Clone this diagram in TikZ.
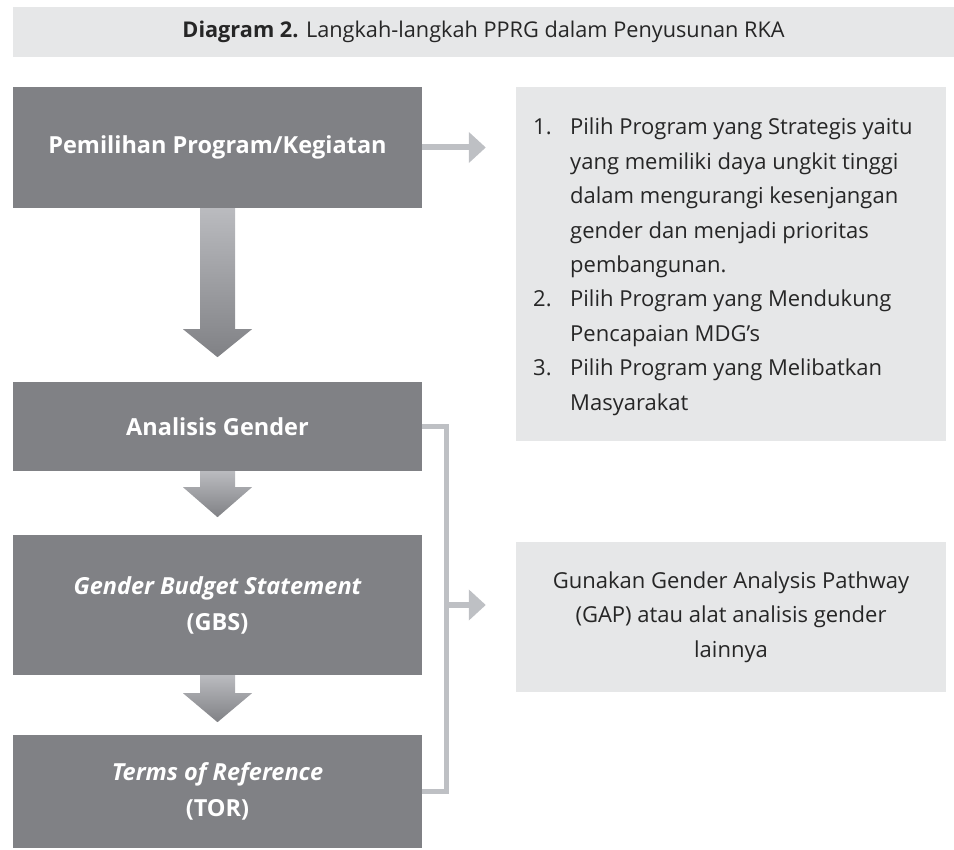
\documentclass[tikz,border=0pt]{standalone}
\usepackage{fontspec}
\setmainfont{Open Sans}
\usetikzlibrary{arrows.meta,calc}
\definecolor{darkbox}{RGB}{128,129,133}
\definecolor{lightbox}{RGB}{230,231,232}
\definecolor{connc}{RGB}{190,192,196}
\definecolor{arrtop}{RGB}{186,187,191}
\definecolor{arrbot}{RGB}{128,129,133}
\newcommand\flowdn[3]{%
  \shade[flowarrow] ($(#1.south)+(-17.5,0)$) -- ++(35,0) -- ++(0,#2) -- ++(17,0)
    -- ($(#1.south)+(0,#3)$) -- ($(#1.south)+(-34.5,#2)$) -- ++(17,0) -- cycle;}
\begin{document}
\begin{tikzpicture}[x=1pt,y=-1pt,
  lbox/.style={fill=darkbox, text=white, inner sep=0pt, minimum width=409pt,
    font=\fontsize{23.5}{36}\selectfont\bfseries, align=center},
  rbox/.style={fill=lightbox, inner sep=0pt, minimum width=430pt},
  conn/.style={draw=connc, line width=6pt, -{Triangle[width=30pt,length=17pt]}},
  bracketline/.style={draw=connc, line width=5pt, line join=miter},
  flowarrow/.style={top color=arrtop, bottom color=arrbot, draw=none},
  bodytext/.style={inner sep=0pt, font=\fontsize{22}{34.4}\selectfont, text=black!85}]
\useasboundingbox (0,0) rectangle (954,850);
% title
\node[fill=lightbox, minimum width=941pt, minimum height=50pt, inner sep=0pt,
  font=\fontsize{21.7}{26}\selectfont, text=black!85] (title) at (483.5,32)
  {\textbf{Diagram 2.} Langkah-langkah PPRG dalam Penyusunan RKA};
% left column
\node[lbox, minimum height=121pt] (b1) at (217.5,147.5) {Pemilihan Program/Kegiatan};
\node[lbox, minimum height=89pt] (b2) at (217.5,426.5) {Analisis Gender};
\node[lbox, minimum height=140pt] (b3) at (217.5,605) {\itshape Gender Budget Statement\\(GBS)};
\node[lbox, minimum height=113pt] (b4) at (217.5,791.5) {\itshape Terms of Reference\\(TOR)};
% right boxes
\node[rbox, minimum height=354pt] (r1) at (731,264) {};
\node[rbox, minimum height=150pt] (r2) at (731,617) {};
\node[bodytext, anchor=base west] (list) at (533,135) {%
\begin{tabular}[t]{@{}p{37pt}@{}l@{}}
1. & Pilih Program yang Strategis yaitu\\
   & yang memiliki daya ungkit tinggi\\
   & dalam mengurangi kesenjangan\\
   & gender dan menjadi prioritas\\
   & pembangunan.\\
2. & Pilih Program yang Mendukung\\
   & Pencapaian MDG’s\\
3. & Pilih Program yang Melibatkan\\
   & Masyarakat
\end{tabular}};
\node[bodytext, align=center] (r2text) at (r2) {Gunakan Gender Analysis Pathway\\(GAP) atau alat analisis gender\\lainnya};
% flow arrows
\flowdn{b1}{121}{149}
\flowdn{b2}{16}{46}
\flowdn{b3}{18}{47}
% connectors
\draw[conn, shorten >=30pt] (b1.east) -- (b1.east -| r1.west);
\coordinate (bt) at ($(b2.east)+(24.5,0)$);
\coordinate (bb) at (bt |- b4.east);
\coordinate (bj) at (bt |- b3.east);
\draw[bracketline] (b2.east) -- (bt) -- (bb) -- (b4.east);
\draw[conn, shorten >=30pt] (bj) -- (bj -| r2.west);
\end{tikzpicture}
\end{document}
